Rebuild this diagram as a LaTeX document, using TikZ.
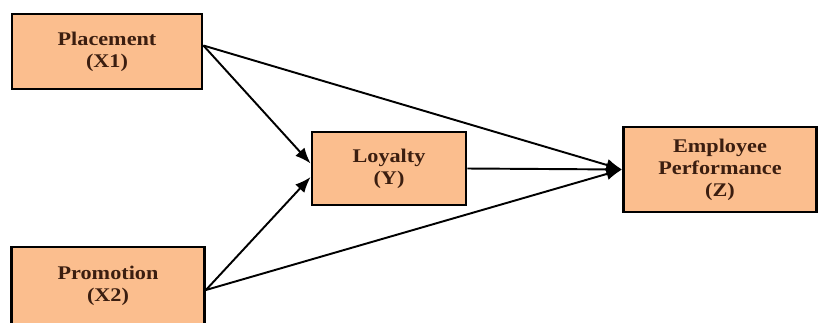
\documentclass[tikz,border=0pt]{standalone}
\usepackage{fontspec}
\setmainfont[FakeStretch=1.15]{Liberation Serif}
\usetikzlibrary{arrows.meta}
\definecolor{boxfill}{HTML}{FBBE8E}
\definecolor{boxtext}{HTML}{3B1E10}
\tikzset{
  var/.style={draw=black,line width=1.6pt,fill=boxfill,text=boxtext,
    font=\fontsize{11}{12.5}\selectfont\bfseries,align=center,inner sep=0pt},
  link/.style={line width=1.1pt,-{Latex[length=9pt,width=7pt]}}
}
\begin{document}
\begin{tikzpicture}[x=0.02cm,y=-0.02cm]
  \clip (0,0) rectangle (818,322);
  \fill[white] (0,0) rectangle (818,322);
  % variables
  \node[var,minimum width=3.8cm,minimum height=1.5cm] (place) at (107,51.5) {Placement\\(X1)};
  \node[var,minimum width=3.86cm,minimum height=1.56cm] (promo) at (108,286) {Promotion\\(X2)};
  \node[var,minimum width=3.08cm,minimum height=1.46cm] (loyal) at (389,168.5) {Loyalty\\(Y)};
  \node[var,minimum width=3.86cm,minimum height=1.7cm] (perf) at (720,169.5) {Employee\\Performance\\(Z)};
  % paths
  \draw[link] ([yshift=0.12cm]place.east) -- ([yshift=0.1cm]loyal.west);
  \draw[link] ([yshift=0.12cm]place.east) -- (perf.west);
  \draw[link] (loyal.east) -- (perf.west);
  \draw[link] ([yshift=-0.08cm]promo.east) -- ([yshift=-0.17cm]loyal.west);
  \draw[link] ([yshift=-0.08cm]promo.east) -- (perf.west);
\end{tikzpicture}
\end{document}
